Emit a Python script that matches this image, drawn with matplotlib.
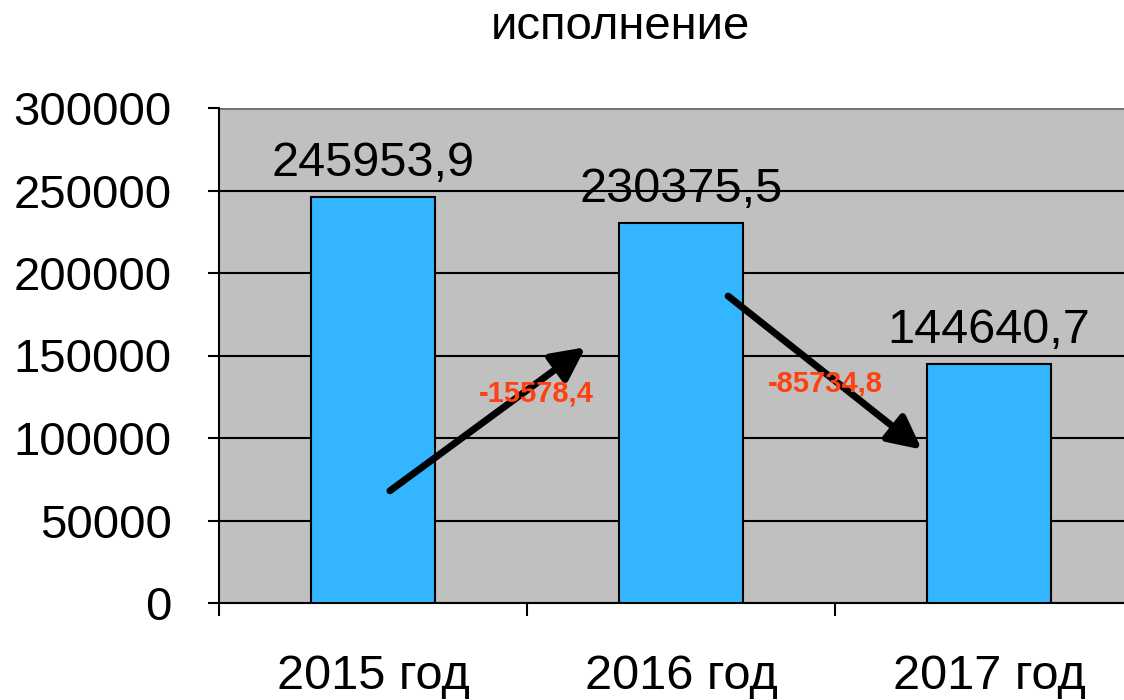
import matplotlib
matplotlib.use("Agg")
import matplotlib.pyplot as plt

plt.rcParams['font.family'] = ['Liberation Sans', 'DejaVu Sans']

# data
years = ['2015 год', '2016 год', '2017 год']
values = [245953.9, 230375.5, 144640.7]
value_labels = ['245953,9', '230375,5', '144640,7']
diff_labels = ['-15578,4', '-85734,8']
yticks = [0, 50000, 100000, 150000, 200000, 250000, 300000]

fig = plt.figure(figsize=(11.24, 7), dpi=100)
ax = fig.add_axes([219 / 1124, 97 / 700, 924 / 1124, 495 / 700])
ax.set_facecolor('#C0C0C0')

x = range(len(years))
ax.bar(x, values, width=0.4, color='#33B5FF', edgecolor='black', linewidth=1.5, zorder=3)

for xi, v, lab in zip(x, values, value_labels):
    ax.annotate(lab, (xi, v), xytext=(0, 8), textcoords='offset points',
                ha='center', va='bottom', fontsize=35, zorder=5)

ax.set_xlim(-0.5, 2.5)
ax.set_ylim(0, 300000)
ax.set_yticks(yticks)
ax.set_yticklabels([str(t) for t in yticks], fontsize=34)
ax.yaxis.grid(True, color='black', linewidth=1.5, zorder=0)
ax.set_axisbelow(True)
ax.tick_params(axis='y', length=8, width=1.5, pad=26, direction='out')

# category boundaries as major ticks, names as minor ticks
ax.set_xticks([-0.5, 0.5, 1.5])
ax.set_xticklabels([])
ax.tick_params(axis='x', which='major', length=9, width=1.5, direction='out')
ax.set_xticks(list(x), minor=True)
ax.set_xticklabels(years, minor=True, fontsize=35)
ax.tick_params(axis='x', which='minor', length=0, pad=37)

for s in ['top', 'right']:
    ax.spines[s].set_visible(False)
ax.spines['left'].set_linewidth(1.5)
ax.spines['bottom'].set_linewidth(1.5)
ax.axhline(300000, color='#707070', linewidth=2, zorder=1)

# change arrows
arrows = [((0.055, 68000), (0.69, 155000)), ((1.153, 186000), (1.782, 93000))]
label_pos = [(0.53, 127000), (1.47, 133000)]
for (start, end), lab, pos in zip(arrows, diff_labels, label_pos):
    ax.annotate('', xy=end, xytext=start,
                arrowprops=dict(arrowstyle='-|>,head_length=1.0,head_width=0.5',
                                mutation_scale=20, color='black', linewidth=5,
                                shrinkA=0, shrinkB=0),
                zorder=6)
    ax.text(pos[0], pos[1], lab, color='#FF4010', fontsize=21, fontweight='bold',
            ha='center', va='center', zorder=7)

fig.text(620 / 1124, 1 - 27 / 700, 'исполнение', ha='center', va='center', fontsize=34)

fig.savefig('out.png', dpi=100)
